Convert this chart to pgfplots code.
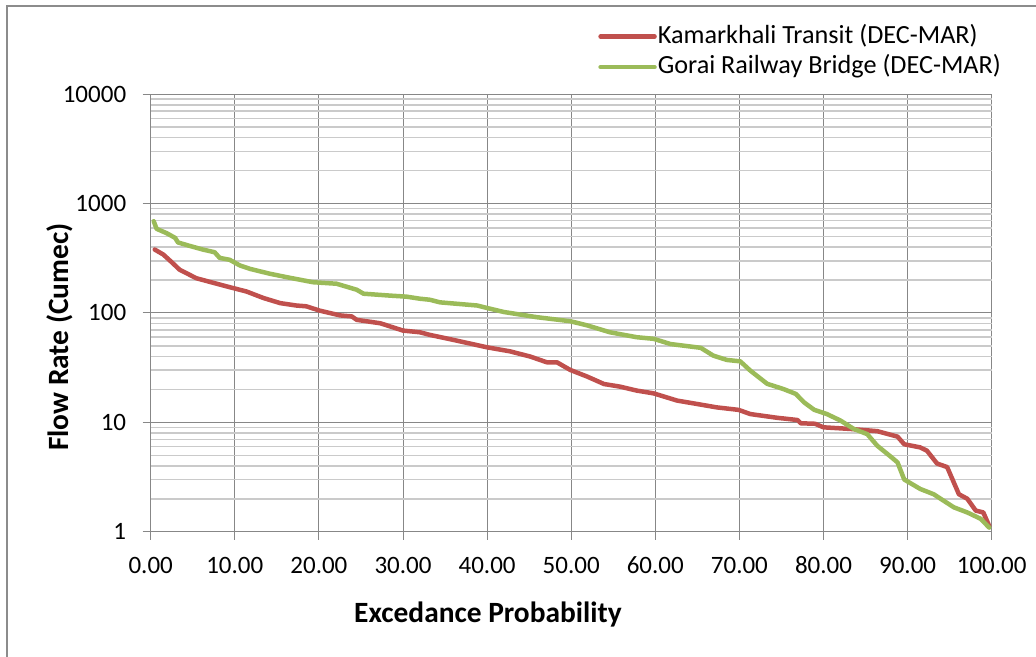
\documentclass[border=0pt]{standalone}
\usepackage{pgfplots}
\pgfplotsset{compat=1.18}
\usepackage{fontspec}
\setmainfont{Carlito}
\definecolor{kred}{HTML}{C0504D}
\definecolor{kgreen}{HTML}{9BBB59}
\definecolor{gridc}{HTML}{878787}
\definecolor{minorc}{HTML}{CACACA}
\definecolor{framec}{HTML}{8C8C8C}
\begin{document}
\begin{tikzpicture}
\useasboundingbox (0pt,0pt) rectangle (1036pt,656pt);
\draw[framec, line width=2pt] (7pt,-10pt) -- (7pt,650pt) -- (1050pt,650pt);
\begin{axis}[
  at={(150.7pt,124.3pt)}, anchor=south west,
  scale only axis, width=841pt, height=437.5pt,
  ymode=log, xmin=0, xmax=100, ymin=1, ymax=10000,
  axis x line=bottom, axis y line=left,
  axis line style={gridc, line width=1.2pt, -},
  xtick={0,10,...,100},
  ytick={1,10,100,1000,10000},
  yticklabels={1,10,100,1000,10000},
  minor ytick={2,3,4,5,6,7,8,9,20,30,40,50,60,70,80,90,200,300,400,500,600,700,800,900,2000,3000,4000,5000,6000,7000,8000,9000},
  xmajorgrids, ymajorgrids, yminorgrids,
  major grid style={gridc, line width=1pt},
  minor grid style={minorc, line width=1.5pt},
  tick align=outside, major tick length=8pt, minor tick length=0pt,
  tick style={gridc, line width=1pt},
  ticklabel style={font=\fontsize{25}{30}\selectfont, text=black},
  xticklabel style={yshift=-13pt, text height=17pt, text depth=0pt, /pgf/number format/fixed, /pgf/number format/fixed zerofill, /pgf/number format/precision=2, /pgf/number format/assume math mode=true},
  yticklabel style={xshift=-13pt},
  xlabel={Excedance Probability},
  ylabel={Flow Rate (Cumec)},
  label style={font=\bfseries\fontsize{29.4}{34}\selectfont},
  xlabel style={at={(axis description cs:0.401,-0.19)}, anchor=center},
  ylabel style={at={(axis description cs:-0.108,0.445)}, anchor=center},
  legend style={at={(0.532,1.163)}, anchor=north west, draw=none, fill=none,
    font=\fontsize{26.2}{31}\selectfont, row sep=3.5pt, inner sep=0pt,
    nodes={inner sep=1pt, text height=19pt, text depth=6pt}},
  legend cell align=left,
  legend image code/.code={\draw[#1] (0pt,0pt) -- (54pt,0pt);},
  every axis plot/.append style={line width=4.5pt, line join=round, line cap=round},
]
\addplot[kred] coordinates {
(0.48,380)(1.5,342)(2.5,291)(3.45,248)(4.4,228)(5.4,208)(7.4,189)(9.4,172)(11.4,157)(13.4,137)(15.4,123)(17.3,117)(18.5,115)(20.1,105)(22.5,95)(23.9,93)(24.5,86.5)(27.3,80.5)(30.0,69)(32.0,66.6)(33.2,63)(36.0,56.7)(40,48.5)(42.7,44.6)(45.1,40)(47.1,35.4)(48.3,35.4)(49.9,30.1)(51.9,26.2)(53.9,22.4)(55.8,21.2)(57.8,19.5)(59.8,18.4)(62.6,15.8)(65.0,14.7)(67.3,13.7)(69.9,13.0)(71.3,11.9)(74.5,11.0)(76.9,10.5)(77.3,9.8)(79.0,9.7)(80.0,9.0)(83.2,8.7)(86.4,8.3)(88.8,7.4)(89.6,6.3)(91.5,5.9)(92.3,5.5)(93.5,4.2)(94.7,3.9)(96.1,2.2)(97.1,2.0)(98.1,1.56)(99.0,1.5)(99.7,1.13)
};
\addlegendentry{Kamarkhali Transit (DEC-MAR)}
\addplot[kgreen] coordinates {
(0.36,690)(0.7,588)(1.9,536)(2.9,486)(3.25,441)(4.6,411)(6.2,380)(7.6,359)(8.2,319)(9.4,306)(10.6,272)(11.8,253)(14.2,228)(16.5,210)(19.3,191)(22.1,185)(24.5,163)(25.3,150)(28.5,144)(30.4,141)(32.0,135)(33.2,132)(34.4,125)(38.8,117)(40,111)(42,102)(45.9,91.5)(49.9,84)(51.9,77)(54.6,66.6)(57.8,60)(59.8,58)(61.8,52)(65.4,48)(66.9,40.7)(68.5,37.2)(70.1,36.1)(71.3,29.7)(73.3,22.5)(75.2,20.2)(76.7,18.2)(77.7,15.2)(78.9,13.0)(80.4,11.9)(82.0,10.4)(83.6,8.7)(85.2,7.8)(86.4,6.1)(88.0,4.85)(88.8,4.3)(89.6,3.0)(91.5,2.46)(93.1,2.2)(95.5,1.67)(97.1,1.5)(98.7,1.31)(99.7,1.09)
};
\addlegendentry{Gorai Railway Bridge (DEC-MAR)}
\end{axis}
\end{tikzpicture}
\end{document}
